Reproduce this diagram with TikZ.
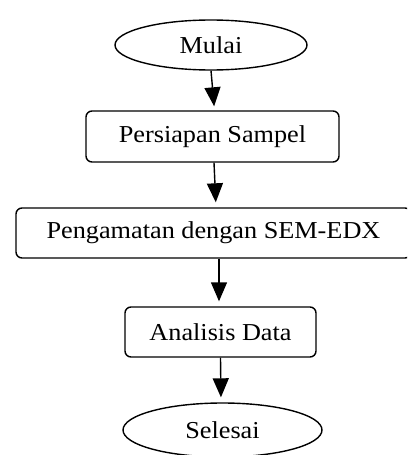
\documentclass[tikz,border=0pt]{standalone}
\usepackage{fontspec}
\setmainfont{Liberation Serif}[FakeStretch=1.08]
\usetikzlibrary{shapes.geometric,arrows.meta}
\begin{document}
\begin{tikzpicture}[x=1pt,y=-1pt,
  every node/.style={font=\fontsize{24.3}{29}\selectfont, inner sep=0pt, line width=1.4pt},
  term/.style={draw, ellipse},
  proc/.style={draw, rectangle, rounded corners=6pt},
  arr/.style={line width=1.4pt, -{Triangle[length=19pt,width=16pt]}, shorten >=5pt}]
\useasboundingbox (0,0) rectangle (407,455);
\clip (0,0) rectangle (407,455);
\node[term, minimum width=192pt, minimum height=50pt] (mulai) at (211,45) {Mulai};
\node[proc, minimum width=253pt, minimum height=51pt] (persiapan) at (212.5,136.5) {Persiapan Sampel};
\node[proc, minimum width=395pt, minimum height=50pt] (sem) at (213.5,233) {Pengamatan dengan SEM-EDX};
\node[proc, minimum width=191pt, minimum height=50pt] (analisis) at (220.5,332) {Analisis Data};
\node[term, minimum width=199pt, minimum height=54pt] (selesai) at (222.5,430) {Selesai};
\draw[arr, shorten >=4pt] (mulai.south) -- ([xshift=2pt]persiapan.north);
\draw[arr] ([xshift=1.5pt]persiapan.south) -- ([xshift=2.5pt]sem.north);
\draw[arr] ([xshift=5.5pt]sem.south) -- ([xshift=-1.5pt]analisis.north);
\draw[arr] (analisis.south) -- ([xshift=-1.5pt]selesai.north);
\end{tikzpicture}
\end{document}
